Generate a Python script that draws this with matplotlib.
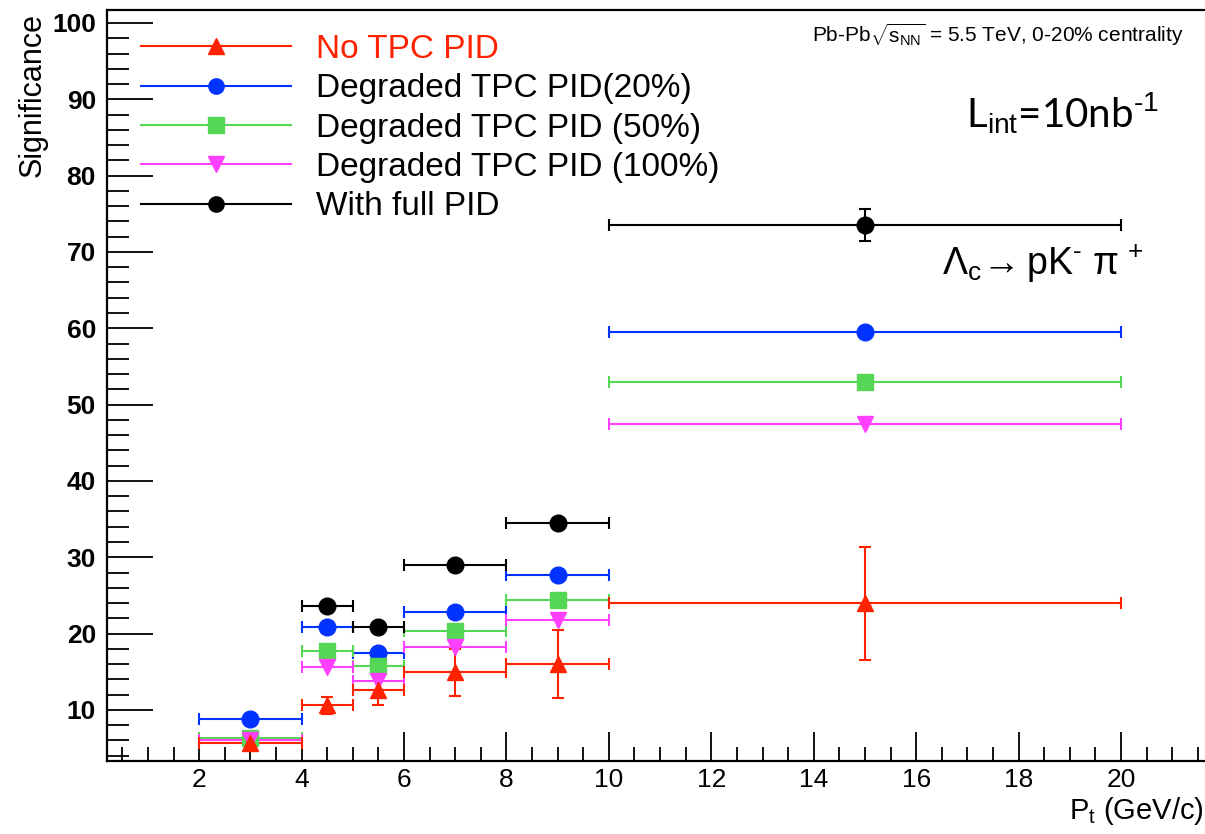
import matplotlib
matplotlib.use("Agg")
import matplotlib.pyplot as plt
from matplotlib.ticker import MultipleLocator, FixedLocator
from matplotlib.lines import Line2D

plt.rcParams['font.family'] = ['Liberation Sans', 'DejaVu Sans']
plt.rcParams['mathtext.fontset'] = 'custom'
plt.rcParams['mathtext.rm'] = 'Liberation Sans'
plt.rcParams['mathtext.it'] = 'Liberation Sans'

# ---- data ----
bin_lo = [2, 4, 5, 6, 8, 10]
bin_hi = [4, 5, 6, 8, 10, 20]
pt_center = [3, 4.5, 5.5, 7, 9, 15]

no_tpc = [5.7, 10.6, 12.6, 14.9, 16.0, 24.0]
no_tpc_err = [0.4, 1.1, 1.9, 3.1, 4.5, 7.4]
deg20 = [8.8, 20.9, 17.5, 22.8, 27.7, 59.5]
deg50 = [6.3, 17.7, 15.8, 20.3, 24.4, 53.0]
deg100 = [6.0, 15.6, 13.8, 18.3, 21.8, 47.4]
full_pid_x = [4.5, 5.5, 7, 9, 15]
full_pid_lo = [4, 5, 6, 8, 10]
full_pid_hi = [5, 6, 8, 10, 20]
full_pid = [23.6, 20.9, 29.0, 34.5, 73.5]
full_pid_err = [0.4, 0.4, 0.5, 0.6, 2.1]

labels = ["No TPC PID", "Degraded TPC PID(20%)", "Degraded TPC PID (50%)",
          "Degraded TPC PID (100%)", "With full PID"]
colors = ['#ff2200', '#0033ff', '#55d655', '#ff40ff', '#000000']
markers = ['^', 'o', 's', 'v', 'o']

fig = plt.figure(figsize=(12.05, 8.34), dpi=100)
ax = fig.add_axes([0.0888, 0.0875, 0.9112, 0.9005])

def draw(x, lo, hi, y, yerr, color, marker, ms):
    xerr = [[xc - l for xc, l in zip(x, lo)], [h - xc for xc, h in zip(x, hi)]]
    ax.errorbar(x, y, xerr=xerr, yerr=yerr, fmt=marker, color=color, ms=ms,
                elinewidth=1.5, capsize=4, capthick=1.5, mec=color, mfc=color)

draw(pt_center, bin_lo, bin_hi, deg20, None, colors[1], markers[1], 12)
draw(pt_center, bin_lo, bin_hi, deg50, None, colors[2], markers[2], 11)
draw(pt_center, bin_lo, bin_hi, deg100, None, colors[3], markers[3], 11)
draw(pt_center, bin_lo, bin_hi, no_tpc, no_tpc_err, colors[0], markers[0], 11)
draw(full_pid_x, full_pid_lo, full_pid_hi, full_pid, full_pid_err, colors[4], markers[4], 12)

ax.set_xlim(0.2, 21.64)
ax.set_ylim(3.3, 101.7)
ax.xaxis.set_major_locator(FixedLocator([2, 4, 6, 8, 10, 12, 14, 16, 18, 20]))
ax.xaxis.set_minor_locator(MultipleLocator(0.5))
ax.yaxis.set_major_locator(FixedLocator([10, 20, 30, 40, 50, 60, 70, 80, 90, 100]))
ax.yaxis.set_minor_locator(MultipleLocator(2))
ax.tick_params(axis='x', which='major', direction='in', length=21, width=1.3,
               labelsize=19, pad=5, top=False)
ax.tick_params(axis='x', which='minor', direction='in', length=10, width=1.3, top=False)
ax.tick_params(axis='y', which='major', direction='in', length=33, width=1.3,
               labelsize=19, pad=8, right=False)
ax.tick_params(axis='y', which='minor', direction='in', length=16, width=1.3, right=False)
for lab in ax.get_yticklabels():
    lab.set_fontweight('bold')
ax.spines['right'].set_visible(False)
for s in ['left', 'bottom', 'top']:
    ax.spines[s].set_linewidth(1.6)

fig.text(0.027, 0.984, "Significance", rotation=90, ha='center', va='top', fontsize=22)
fig.text(0.999, 0.028, r"P$_{\rm t}$ (GeV/c)", ha='right', va='center', fontsize=21)

# legend
handles = [Line2D([0], [0], color=c, marker=m, ms=11, lw=1.5) for c, m in zip(colors, markers)]
leg = ax.legend(handles, labels, loc='upper left', bbox_to_anchor=(0.019, 0.986),
                frameon=False, fontsize=24, handlelength=4.5, handletextpad=0.75,
                labelspacing=0.25, borderaxespad=0)
leg.get_texts()[0].set_color(colors[0])

fig.text(0.674, 0.959, r"Pb-Pb$\sqrt{s_{\rm NN}}$ = 5.5 TeV, 0-20% centrality",
         fontsize=15, ha='left', va='center')
fig.text(0.802, 0.864, r"L$_{\rm int}$=10nb$^{\text{-1}}$", fontsize=29,
         ha='left', va='center', family=['Lato', 'DejaVu Sans'])
fig.text(0.782, 0.683, r"$\Lambda_{\rm c}\!\rightarrow$pK$^{\text{-}}$ π$^{\,+}$", fontsize=27,
         ha='left', va='center')

fig.savefig("out.png", dpi=100)
